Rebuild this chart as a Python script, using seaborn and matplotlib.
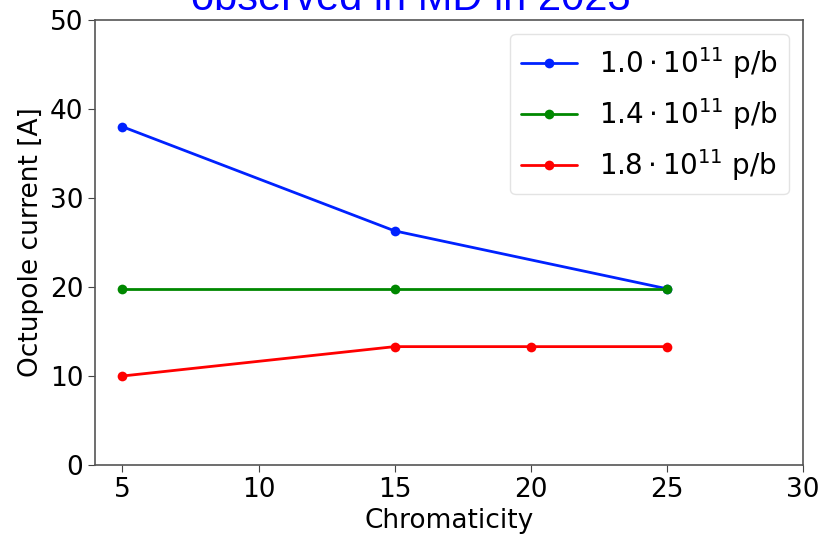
import matplotlib
matplotlib.use("Agg")
import matplotlib.pyplot as plt
import seaborn as sns
import pandas as pd

# Octupole current needed at each chromaticity, per bunch intensity
chroma_10 = [5, 15, 25]
current_10 = [38.0, 26.3, 19.8]
chroma_14 = [5, 15, 25]
current_14 = [19.8, 19.8, 19.8]
chroma_18 = [5, 15, 20, 25]
current_18 = [10.0, 13.3, 13.3, 13.3]
labels = [r"$1.0 \cdot 10^{11}$ p/b", r"$1.4 \cdot 10^{11}$ p/b", r"$1.8 \cdot 10^{11}$ p/b"]
colors = ["#0022ff", "#008800", "#ff0000"]

frames = []
for lab, xs, ys in zip(labels, [chroma_10, chroma_14, chroma_18],
                       [current_10, current_14, current_18]):
    frames.append(pd.DataFrame({"Chromaticity": xs, "Current": ys, "Intensity": lab}))
df = pd.concat(frames, ignore_index=True)

sns.set_style("white")
plt.rcParams["font.family"] = ["DejaVu Sans"]
plt.rcParams["mathtext.fontset"] = "dejavusans"
plt.rcParams["text.color"] = "black"
plt.rcParams["axes.labelcolor"] = "black"
plt.rcParams["xtick.color"] = "black"
plt.rcParams["ytick.color"] = "black"

fig, ax = plt.subplots(figsize=(8.21, 5.37), dpi=100)
fig.subplots_adjust(left=0.116, right=0.978, top=0.963, bottom=0.134)

sns.lineplot(data=df, x="Chromaticity", y="Current", hue="Intensity",
             hue_order=labels, palette=colors, marker="o", markersize=7,
             markeredgewidth=0, linewidth=2, ax=ax)

ax.set_xlim(4, 30)
ax.set_ylim(0, 50)
ax.set_xticks([5, 10, 15, 20, 25, 30])
ax.set_yticks([0, 10, 20, 30, 40, 50])
ax.tick_params(axis="both", labelsize=19, length=5, direction="out",
               bottom=True, left=True, color="#444444")
ax.set_xlabel("Chromaticity", fontsize=19)
ax.set_ylabel("Octupole current [A]", fontsize=19)
for s in ax.spines.values():
    s.set_color("#555555")
    s.set_linewidth(1.2)

# Figure title; its upper line runs above the top edge of the canvas
fig.text(0.5, 1 - 10 / 537, "Octupole current threshold\nobserved in MD in 2023",
         color="#0000ff", fontsize=30, family="Liberation Sans",
         ha="center", va="baseline", multialignment="center")

leg = ax.legend(loc="upper right", fontsize=20, frameon=True, title=None,
                labelspacing=0.55, borderaxespad=0.5)
leg.get_frame().set_edgecolor("#dddddd")

fig.savefig("out.png", dpi=100)
